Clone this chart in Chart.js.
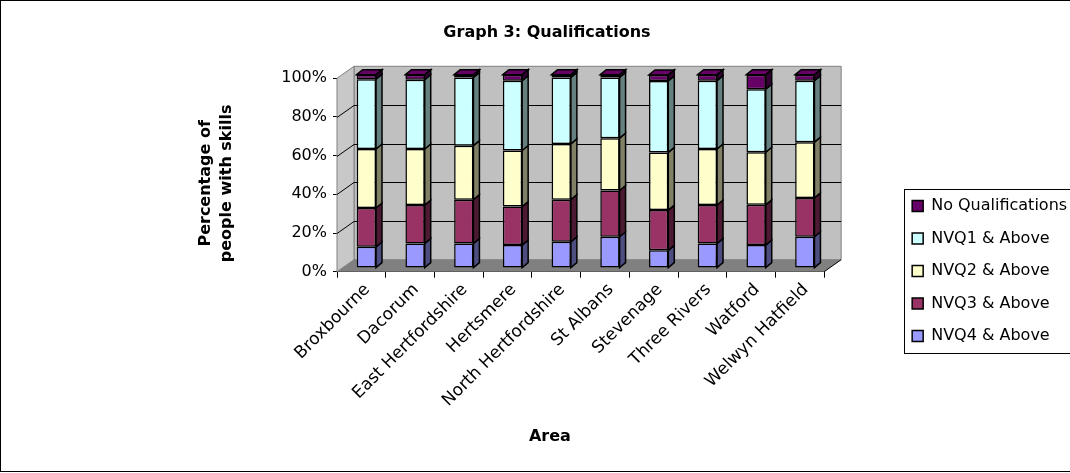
<!DOCTYPE html>
<html><head><meta charset="utf-8">
<script src="https://cdn.jsdelivr.net/npm/chart.js@4/dist/chart.umd.min.js"></script>
<style>html,body{margin:0;padding:0;background:#fff;}canvas{display:block;}</style>
</head><body>
<canvas id="c" width="1070" height="473"></canvas>
<script>
// ---- data (percent of people, stacked to 100%) ----
const categories = ['Broxbourne','Dacorum','East Hertfordshire','Hertsmere','North Hertfordshire','St Albans','Stevenage','Three Rivers','Watford','Welwyn Hatfield'];
const nvq4  = [11.0, 12.7, 12.7, 11.9, 13.6, 16.2,  9.2, 12.7, 11.9, 16.2];
const nvq3  = [20.1, 19.9, 22.7, 19.9, 21.8, 23.9, 20.8, 19.9, 20.8, 20.1];
const nvq2  = [30.5, 29.0, 27.9, 29.0, 28.8, 27.1, 29.8, 29.0, 27.2, 28.8];
const nvq1  = [36.1, 35.8, 35.3, 36.1, 34.4, 31.4, 37.0, 35.3, 32.6, 31.8];
const noQual = [2.3,  2.6,  1.4,  3.1,  1.4,  1.4,  3.1,  3.1,  7.5,  3.1];
const seriesNames = ['NVQ4 & Above','NVQ3 & Above','NVQ2 & Above','NVQ1 & Above','No Qualifications'];
const yTickValues = [0, 20, 40, 60, 80, 100];

// ---- styles ----
const frontColors = ['#9999FF','#993366','#FFFFCC','#CCFFFF','#660066'];
const sideColors  = ['#4D4D80','#4D1A33','#808066','#668080','#330033'];
const WALL = {dx: 17, dy: -12};
const BAR = {shiftX: 5, shiftY: -3.6, dx: 6, dy: -5};

Chart.defaults.font.family = "'DejaVu Sans', sans-serif";
Chart.defaults.font.size = 16;
Chart.defaults.color = '#000';
Chart.defaults.animation = false;

function poly(ctx, pts, fill, stroke, lw) {
  ctx.beginPath();
  ctx.moveTo(pts[0][0], pts[0][1]);
  for (let i = 1; i < pts.length; i++) ctx.lineTo(pts[i][0], pts[i][1]);
  ctx.closePath();
  if (fill) { ctx.fillStyle = fill; ctx.fill(); }
  if (stroke) { ctx.strokeStyle = stroke; ctx.lineWidth = lw || 1; ctx.stroke(); }
}
function seg(ctx, x1, y1, x2, y2, color, lw) {
  ctx.beginPath(); ctx.moveTo(x1, y1); ctx.lineTo(x2, y2);
  ctx.strokeStyle = color; ctx.lineWidth = lw || 1; ctx.stroke();
}

const threeD = {
  id: 'threeD',
  beforeDraw(chart) {
    const ctx = chart.ctx;
    ctx.save(); ctx.fillStyle = '#fff'; ctx.fillRect(0, 0, chart.width, chart.height); ctx.restore();
  },
  beforeDatasetsDraw(chart) {
    const ctx = chart.ctx, a = chart.chartArea, ys = chart.scales.y;
    const L = a.left, R = a.right, T = a.top, B = a.bottom, dx = WALL.dx, dy = WALL.dy;
    ctx.save();
    // back wall
    poly(ctx, [[L+dx, T+dy], [R+dx, T+dy], [R+dx, B+dy], [L+dx, B+dy]], '#C0C0C0', '#808080', 1);
    // left wall
    poly(ctx, [[L, T], [L, B], [L+dx, B+dy], [L+dx, T+dy]], '#C8C8C8', '#808080', 1);
    // floor
    poly(ctx, [[L, B], [R, B], [R+dx, B+dy], [L+dx, B+dy]], '#808080', null);
    seg(ctx, R, B, R+dx, B+dy, '#000', 1);
    // gridlines on walls
    yTickValues.forEach(v => {
      if (v === 0 || v === 100) return;
      const py = Math.round(ys.getPixelForValue(v)) + 0.5;
      seg(ctx, L+dx, py+dy, R+dx, py+dy, '#000', 1);
      seg(ctx, L, py, L+dx, py+dy, '#000', 1);
    });
    ctx.restore();
    // bars sit a little behind the front plane
    ctx.save();
    ctx.translate(BAR.shiftX, BAR.shiftY);
    const last = chart.data.datasets.length - 1;
    chart.data.datasets.forEach((ds, i) => {
      const meta = chart.getDatasetMeta(i);
      meta.data.forEach(el => {
        const p = el.getProps(['x', 'y', 'base', 'width'], true);
        const l = p.x - p.width / 2, r = p.x + p.width / 2;
        const top = Math.min(p.y, p.base), bot = Math.max(p.y, p.base);
        poly(ctx, [[r, top], [r+BAR.dx, top+BAR.dy], [r+BAR.dx, bot+BAR.dy], [r, bot]], sideColors[i], '#000', 1.5);
        if (i === last) {
          poly(ctx, [[l, top], [l+BAR.dx, top+BAR.dy], [r+BAR.dx, top+BAR.dy], [r, top]], frontColors[i], '#000', 1.5);
        }
      });
    });
  },
  afterDatasetsDraw(chart) {
    chart.ctx.restore();
  },
  afterDraw(chart) {
    const ctx = chart.ctx;
    ctx.save();
    ctx.strokeStyle = '#000'; ctx.lineWidth = 1;
    ctx.strokeRect(0.5, 0.5, chart.width + 40, chart.height - 2);
    const hb = chart.legend.legendHitBoxes;
    if (hb && hb.length) {
      const first = hb[0], lastHb = hb[hb.length - 1];
      const left = Math.round(first.left - 8) + 0.5;
      const top = Math.round(first.top - 9) + 0.5;
      const bottom = Math.round(lastHb.top + lastHb.height + 9) + 0.5;
      ctx.strokeRect(left, top, 300, bottom - top);
    }
    ctx.restore();
  }
};

const seriesData = [nvq4, nvq3, nvq2, nvq1, noQual];
const datasets = seriesData.map((d, i) => ({
  label: seriesNames[i],
  data: d,
  backgroundColor: frontColors[i],
  borderColor: '#000',
  borderWidth: 1.5,
  borderSkipped: false,
  clip: false,
  barPercentage: 0.396,
  categoryPercentage: 1.0
}));

new Chart(document.getElementById('c'), {
  type: 'bar',
  data: { labels: categories, datasets },
  options: {
    responsive: false,
    layout: { padding: { left: 24, right: 0, top: 5, bottom: 10 } },
    plugins: {
      title: {
        display: true, text: 'Graph 3: Qualifications',
        font: { size: 16, weight: 'bold', lineHeight: 1.2 },
        padding: { top: 18.4, bottom: 35.7 }
      },
      legend: {
        position: 'right', reverse: true, align: 'start',
        title: { display: true, text: '', font: { size: 1, lineHeight: 1 }, padding: { top: 175.5, bottom: 0 } },
        labels: { boxWidth: 11, boxHeight: 11, padding: 16.5, font: { size: 16 }, color: '#000' }
      },
      tooltip: { enabled: false }
    },
    scales: {
      x: {
        stacked: true,
        grid: { display: true, drawOnChartArea: false, drawTicks: true, tickLength: 6, color: '#000', offset: true },
        border: { display: true, color: '#000', width: 1 },
        ticks: { minRotation: 45, maxRotation: 45, autoSkip: false, padding: 2, labelOffset: 6, font: { size: 17 } },
        title: { display: true, text: 'Area' + '\u00a0'.repeat(11), font: { size: 16, weight: 'bold', lineHeight: 1.2 }, padding: { top: 0, bottom: 16.4 } },
        afterFit(s) { s.height = 473 - 10 - 271.7; }
      },
      y: {
        stacked: true, min: 0, max: 100,
        afterBuildTicks(s) { s.ticks = yTickValues.map(v => ({ value: v })); },
        ticks: { callback: v => v + '%', padding: 6, font: { size: 16 } },
        grid: { display: true, drawOnChartArea: false, drawTicks: true, tickLength: 4, color: '#000' },
        border: { display: true, color: '#000', width: 1 },
        title: { display: true, text: ['Percentage of' + '\u00a0'.repeat(3), 'people with skills' + '\u00a0'.repeat(3)], font: { size: 16, weight: 'bold', lineHeight: 1.3 }, padding: { top: 171.6, bottom: 0 } },
        afterFit(s) { s.width = 337 - 24; }
      },
      y2: {
        type: 'linear', position: 'right', display: true,
        grid: { display: false }, ticks: { display: false }, border: { display: false },
        afterFit(s) { s.width = 71.5; }
      }
    }
  },
  plugins: [threeD]
});
</script>
</body></html>
